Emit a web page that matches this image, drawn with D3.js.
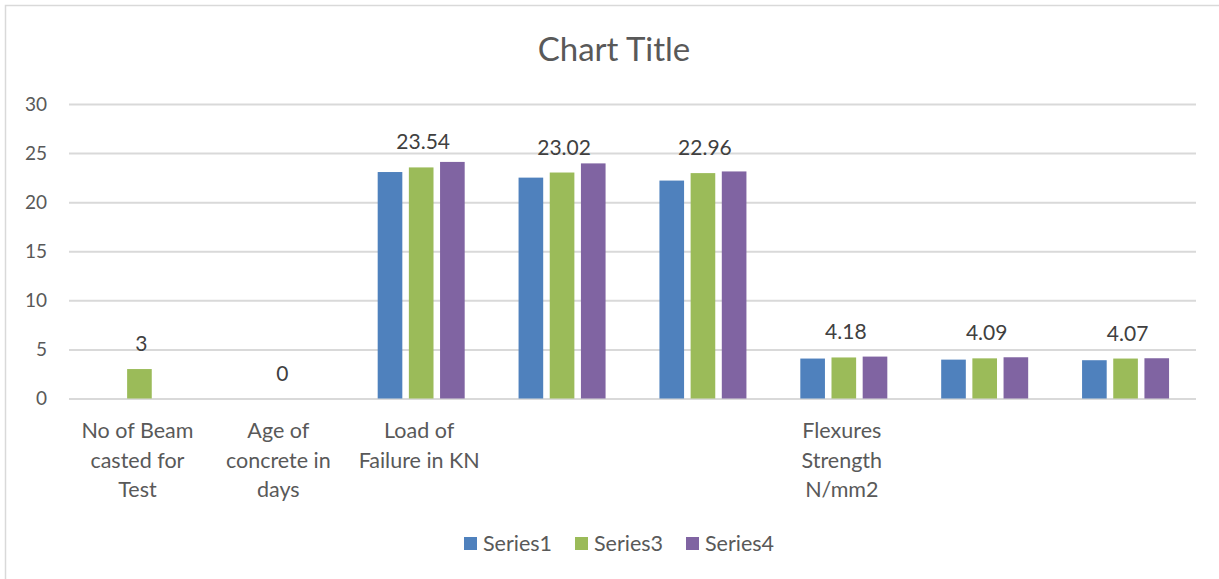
<!DOCTYPE html>
<html>
<head>
<meta charset="utf-8">
<script src="https://cdn.jsdelivr.net/npm/d3@7"></script>
<style>
  body { margin: 0; background: #fff; }
  svg { display: block; font-family: Lato, "Open Sans", sans-serif; }
</style>
</head>
<body>
<div id="chart"></div>
<script>
// ---------- Data ----------
const categories = [
  "No of Beam casted for Test",
  "Age of concrete in days",
  "Load of Failure in KN",
  "", "",
  "Flexures Strength N/mm2",
  "", ""
];
const categoryLines = [
  ["No of Beam", "casted for", "Test"],
  ["Age of", "concrete in", "days"],
  ["Load of", "Failure in KN"],
  [], [],
  ["Flexures", "Strength", "N/mm2"],
  [], []
];
const seriesNames = ["Series1", "Series3", "Series4"];
const series1 = [null, null, 23.07, 22.5, 22.2, 4.07, 3.96, 3.9];
const series3 = [3, 0, 23.54, 23.02, 22.96, 4.18, 4.09, 4.07];
const series4 = [null, null, 24.1, 23.95, 23.13, 4.27, 4.2, 4.1];
const yTicks = [0, 5, 10, 15, 20, 25, 30];
const colors = ["#4f81bd", "#9bbb59", "#8064a2"];

// ---------- Layout ----------
const width = 1219, height = 579;
const margin = {top: 104, right: 23, bottom: 180, left: 69};

const svg = d3.select("#chart").append("svg")
  .attr("width", width)
  .attr("height", height);

// chart frame
svg.append("rect")
  .attr("x", 5.5).attr("y", 5.5)
  .attr("width", width + 10).attr("height", height + 10)
  .attr("fill", "none")
  .attr("stroke", "#d9d9d9")
  .attr("stroke-width", 1.5);

svg.append("text")
  .attr("x", 614).attr("y", 61)
  .attr("text-anchor", "middle")
  .attr("font-size", 33)
  .attr("fill", "#595959")
  .text("Chart Title");

const idx = d3.range(categories.length);

const x0 = d3.scaleBand()
  .domain(idx)
  .range([margin.left, width - margin.right])
  .padding(0);

const x1 = d3.scaleBand()
  .domain(seriesNames)
  .range([x0.bandwidth() / 2 - 43.5, x0.bandwidth() / 2 + 43.5])
  .paddingInner(0.21);

const y = d3.scaleLinear()
  .domain([0, 30])
  .range([height - margin.bottom + 0.5 - 1, margin.top]);

// ---------- Grid / axis ----------
const yAxis = svg.append("g")
  .attr("transform", `translate(${margin.left},0)`)
  .call(d3.axisLeft(y)
    .tickValues(yTicks)
    .tickSize(-(width - margin.left - margin.right))
    .tickPadding(22));

yAxis.select(".domain").remove();
yAxis.selectAll(".tick line")
  .attr("stroke", "#d9d9d9")
  .attr("stroke-width", 2);
yAxis.selectAll(".tick text")
  .attr("font-size", 19)
  .attr("font-family", "Lato, 'Open Sans', sans-serif")
  .attr("fill", "#595959");

// ---------- Bars ----------
const allSeries = [series1, series3, series4];
const rows = idx.map(i => ({
  i,
  vals: seriesNames.map((s, k) => ({ s, k, v: allSeries[k][i] }))
}));

const groups = svg.append("g")
  .selectAll("g")
  .data(rows)
  .join("g")
  .attr("transform", d => `translate(${x0(d.i)},0)`);

groups.selectAll("rect")
  .data(d => d.vals.filter(v => v.v !== null && v.v > 0))
  .join("rect")
  .attr("x", d => x1(d.s))
  .attr("width", x1.bandwidth())
  .attr("y", d => y(d.v))
  .attr("height", d => y(0) - y(d.v))
  .attr("fill", d => colors[d.k]);

// data labels (Series3 only)
groups.append("text")
  .attr("x", x0.bandwidth() / 2 + 2)
  .attr("y", d => y(series3[d.i]) - 18)
  .attr("text-anchor", "middle")
  .attr("font-size", 21)
  .attr("fill", "#404040")
  .text(d => series3[d.i]);

// category labels
groups.append("text")
  .attr("text-anchor", "middle")
  .attr("font-size", 21.5)
  .attr("fill", "#595959")
  .selectAll("tspan")
  .data(d => categoryLines[d.i])
  .join("tspan")
  .attr("x", x0.bandwidth() / 2 - 2)
  .attr("y", (d, j) => 438 + j * 29.5)
  .text(d => d);

// ---------- Legend ----------
const legendX = [464, 575, 686];
const legend = svg.append("g")
  .selectAll("g")
  .data(seriesNames)
  .join("g")
  .attr("transform", (d, i) => `translate(${legendX[i]},537)`);

legend.append("rect")
  .attr("width", 13).attr("height", 13)
  .attr("fill", (d, i) => colors[i]);

legend.append("text")
  .attr("x", 19).attr("y", 13.5)
  .attr("font-size", 21.5)
  .attr("fill", "#595959")
  .text(d => d);
</script>
</body>
</html>
